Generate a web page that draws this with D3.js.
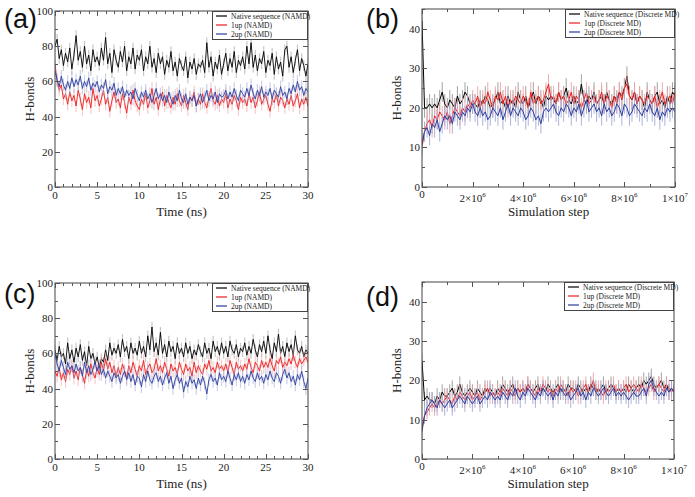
<!DOCTYPE html>
<html><head><meta charset="utf-8">
<script src="https://cdn.jsdelivr.net/npm/d3@7/dist/d3.min.js"></script>
<style>body{margin:0;background:#fff}svg{display:block}</style>
</head><body>
<svg id="chart" width="695" height="497"></svg>
<script>
// ---------- DATA ----------
// NAMD panels: H-bonds sampled every 0.25 ns (0..30 ns)
const namdStepNs = 0.25;
const aNative = [80,84,73,78,69,76,71,79,67,75, 86,72,77,68,80,70,75,66,78,71, 74,69,79,72,85,70,76,65,78,72, 68,77,71,80,66,74,70,79,67,75, 72,78,66,74,70,80,68,73,65,76, 70,74,64,72,68,77,66,71,63,73, 69,66,74,62,71,67,73,64,70,68, 72,65,82,68,74,63,71,67,75,64, 70,76,66,73,68,77,65,72,69,74, 67,80,70,82,68,75,66,73,70,77, 65,72,69,76,64,74,67,71,63,78, 80,68,74,65,72,78,66,73,69,63, 70];
const a1up = [70,60,55,58,50,53,47,54,49,52, 46,55,50,44,53,48,51,45,56,49, 52,46,50,55,47,51,43,49,54,48, 50,45,53,48,42,51,47,55,49,46, 44,50,47,53,45,49,56,47,51,44, 50,54,46,52,48,45,51,47,53,49, 46,52,48,44,51,49,54,46,50,47, 53,48,45,51,56,49,47,52,46,50, 48,53,45,50,47,52,49,44,51,48, 50,46,53,48,51,45,49,54,47,50, 52,47,43,50,48,53,46,51,49,45, 50,47,52,46,49,53,45,50,47,51, 46];
const a2up = [66,61,57,63,58,55,60,56,62,57, 61,58,63,56,60,57,62,55,59,57, 60,54,58,56,61,53,57,55,59,52, 56,53,57,51,55,52,54,50,56,52, 49,54,51,55,50,53,48,52,56,50, 53,49,52,48,54,50,47,52,49,55, 50,48,53,47,51,49,52,46,50,53, 48,51,55,49,52,50,54,48,53,51, 52,55,50,54,51,56,52,49,55,53, 51,56,52,58,53,50,55,52,57,51, 54,52,56,50,55,53,51,57,52,54, 50,56,53,58,54,60,55,57,52,56, 54];
const cNative = [62,56,64,58,60,54,66,57,62,55, 63,58,65,56,61,53,64,57,60,54, 58,52,57,55,62,56,66,59,63,60, 65,58,68,61,64,57,66,60,63,59, 67,60,64,58,70,62,75,61,66,59, 72,60,65,58,67,61,64,57,66,60, 63,58,66,60,64,57,62,59,65,61, 58,66,60,63,57,67,61,64,59,66, 60,64,58,67,62,60,65,58,63,61, 66,59,64,60,68,62,58,65,61,67, 60,70,62,57,66,61,71,60,64,58, 66,61,65,59,70,62,60,64,58,62, 60];
const c1up = [50,47,52,45,49,44,51,48,53,46, 50,45,52,48,43,51,47,54,49,46, 52,48,55,50,57,51,55,49,53,47, 52,48,54,50,46,53,49,55,51,47, 53,50,56,48,52,54,49,51,57,50, 53,49,55,51,47,54,50,52,48,55, 51,48,54,50,52,47,55,49,53,50, 48,54,51,56,50,52,49,55,51,53, 50,54,49,56,52,48,55,51,53,50, 54,51,57,52,49,55,53,50,56,52, 55,52,57,53,50,56,54,58,52,55, 53,57,54,59,55,52,57,54,56,58, 55];
const c2up = [60,54,50,56,52,48,55,51,53,49, 54,50,52,47,55,49,53,48,51,55, 50,53,48,51,46,50,47,44,49,46, 48,43,47,50,45,49,44,48,42,47, 46,41,48,44,50,45,43,47,49,44, 47,42,46,49,43,47,40,45,48,43, 46,38,44,41,47,43,45,40,46,42, 47,43,37,45,48,44,46,42,49,45, 47,44,50,46,42,48,45,49,44,47, 43,48,45,50,46,44,49,45,47,43, 48,45,50,46,44,49,47,43,48,51, 46,49,44,47,42,48,45,50,44,40, 46];
// Discrete MD panels: H-bonds every 1e5 simulation steps (0..1e7)
const dmdStep = 1e5;
const bNative = [42,20,20,21,20,21,20,22,24,21, 20,22,21,20,23,21,22,24,23,21, 21,21,20,22,21,23,22,20,21,22, 24,21,22,20,23,21,22,20,24,22, 21,23,20,22,24,21,23,22,20,23, 22,23,22,21,24,22,23,25,22,21, 23,21,22,26,22,21,23,22,24,21, 22,23,21,24,22,21,23,22,24,23, 25,28,23,22,24,21,23,22,20,24, 22,21,23,24,21,22,20,23,21,24, 23];
const b1up = [10,14,16,17,15,18,17,19,18,17, 19,16,18,20,19,18,20,19,21,20, 22,21,23,20,22,21,24,22,20,23, 22,24,21,23,20,22,21,23,22,21, 23,22,20,24,21,22,23,21,22,24, 26,22,23,21,24,22,23,21,22,24, 21,23,22,20,22,24,21,22,23,21, 22,24,21,23,22,20,23,21,24,22, 25,26,23,22,24,21,23,22,21,23, 22,21,23,20,22,24,21,22,23,21, 24];
const b2up = [11,14,15,13,16,15,17,14,16,18, 17,18,16,19,18,17,19,18,20,19, 21,19,18,20,18,19,17,18,20,19, 18,20,17,19,21,18,20,19,18,20, 19,17,18,20,19,17,18,16,19,20, 19,20,21,19,18,20,19,21,20,18, 20,19,21,18,20,22,19,20,21,19, 20,18,21,19,20,18,19,21,20,18, 21,20,18,19,21,20,19,18,20,19, 21,19,18,20,17,19,18,20,19,20, 19];
const dNative = [25,15,16,15,15,14,16,15,17,16, 16,17,18,16,17,19,17,16,17,18, 17,16,18,17,16,18,17,18,17,16, 18,17,19,18,17,18,19,17,18,17, 18,17,19,18,17,18,19,17,18,17, 19,18,17,18,19,17,18,17,19,18, 18,17,19,18,17,18,17,19,18,18, 17,18,19,17,18,19,18,17,18,17, 18,17,19,18,17,18,19,18,20,19, 20,21,19,18,19,20,18,19,17,18, 17];
const d1up = [8,11,12,13,14,13,14,15,14,15, 16,15,14,16,15,17,16,15,16,17, 15,16,17,15,16,17,18,16,17,16, 17,16,18,17,16,18,17,16,18,17, 18,17,19,18,17,16,18,17,19,18, 17,18,16,18,17,19,18,17,16,18, 17,18,16,17,18,19,17,18,20,17, 18,17,16,18,17,18,19,17,18,17, 18,19,17,18,19,18,17,19,18,17, 18,19,17,18,19,18,17,19,18,17, 18];
const d2up = [7,11,13,14,15,14,13,15,14,13, 14,15,13,14,15,16,15,14,16,15, 14,15,16,14,15,16,15,17,16,15, 16,15,17,16,15,17,16,18,16,15, 17,16,18,17,16,15,17,16,18,17, 16,17,15,17,16,18,17,16,17,15, 16,17,18,16,17,15,17,16,18,17, 16,17,18,17,16,17,18,16,17,16, 17,16,15,16,17,16,16,17,18,16, 19,20,18,17,16,17,16,18,17,18, 17];
// approximate error-bar half widths (H-bonds)
const errNamd = [3, 3.5, 3.5];
const errB = [2.5, 2.5, 2.5];
const errD = [2, 2, 2];
const namdNames = ["Native sequence (NAMD)", "1up (NAMD)", "2up (NAMD)"];
const dmdNames = ["Native sequence (Discrete MD)", "1up (Discrete MD)", "2up (Discrete MD)"];
const namdXTicks = [0,5,10,15,20,25,30];
const namdYTicks = [0,20,40,60,80,100];
const dmdXTicks = [0,2e6,4e6,6e6,8e6,1e7];
const dmdYTicks = [0,10,20,30,40];

// ---------- STYLE ----------
const lineColors = ["#000000", "#ee1c1c", "#2b3d9e"];
const barColors = ["#9a9a9a", "#f6a3a3", "#a3acd8"];
const serif = "'Liberation Serif','Times New Roman',serif";

const svg = d3.select("#chart");

const panels = [
  {label:"(a)", lx:4, ly:28, box:[55,308,11,187], xd:[0,30], yd:[0,100], xt:namdXTicks, xm:1, yt:namdYTicks, ym:10,
   series:[aNative,a1up,a2up], dx:namdStepNs, err:errNamd, names:namdNames, xlab:"Time (ns)", dmd:false, lw:96},
  {label:"(b)", lx:366, ly:28, box:[422,675,9,187], xd:[0,1e7], yd:[0,45], xt:dmdXTicks, xm:1e6, yt:dmdYTicks, ym:5,
   series:[bNative,b1up,b2up], dx:dmdStep, err:errB, names:dmdNames, xlab:"Simulation step", dmd:true, lw:110},
  {label:"(c)", lx:4, ly:303, box:[55,308,283,459], xd:[0,30], yd:[0,100], xt:namdXTicks, xm:1, yt:namdYTicks, ym:10,
   series:[cNative,c1up,c2up], dx:namdStepNs, err:errNamd, names:namdNames, xlab:"Time (ns)", dmd:false, lw:96},
  {label:"(d)", lx:366, ly:306, box:[422,674,282,459], xd:[0,1e7], yd:[0,45], xt:dmdXTicks, xm:1e6, yt:dmdYTicks, ym:5,
   series:[dNative,d1up,d2up], dx:dmdStep, err:errD, names:dmdNames, xlab:"Simulation step", dmd:true, lw:110}
];

panels.forEach((p, pi) => {
  const [x0,x1,y0,y1] = p.box;
  const x = d3.scaleLinear().domain(p.xd).range([x0,x1]);
  const y = d3.scaleLinear().domain(p.yd).range([y1,y0]);
  const g = svg.append("g");
  const clipId = "clip"+pi;
  g.append("clipPath").attr("id", clipId).append("rect")
    .attr("x", x0).attr("y", y0).attr("width", x1-x0).attr("height", y1-y0);
  const plot = g.append("g").attr("clip-path", `url(#${clipId})`);

  p.series.forEach((vals, si) => {
    const pts = vals.map((v,i) => ({x: i*p.dx, y: v}));
    const e = p.err[si];
    plot.append("g").selectAll("line").data(pts).join("line")
      .attr("x1", d => x(d.x)).attr("x2", d => x(d.x))
      .attr("y1", d => y(d.y - e)).attr("y2", d => y(d.y + e))
      .attr("stroke", barColors[si]).attr("stroke-width", p.dmd ? 1 : 1.2)
      .attr("opacity", p.dmd ? 0.9 : 0.55);
    plot.append("path").datum(pts)
      .attr("d", d3.line().x(d => x(d.x)).y(d => y(d.y)))
      .attr("fill", "none").attr("stroke", lineColors[si])
      .attr("stroke-width", p.dmd ? 1 : 0.9).attr("stroke-linejoin", "round");
  });

  // frame
  g.append("rect").attr("x", x0).attr("y", y0).attr("width", x1-x0).attr("height", y1-y0)
    .attr("fill", "none").attr("stroke", "#444").attr("stroke-width", 1);

  // ticks (inward, all four sides)
  const tickG = g.append("g").attr("stroke", "#555").attr("stroke-width", 1);
  const xMinor = d3.range(p.xd[0], p.xd[1] + p.xm/2, p.xm);
  const yMinor = d3.range(p.yd[0], p.yd[1] + p.ym/2, p.ym);
  xMinor.forEach(v => {
    const major = p.xt.some(t => Math.abs(t - v) < p.xm/10);
    const L = major ? 5 : 3;
    const xx = Math.round(x(v)) + 0.5;
    tickG.append("line").attr("x1", xx).attr("x2", xx).attr("y1", y1).attr("y2", y1-L);
    tickG.append("line").attr("x1", xx).attr("x2", xx).attr("y1", y0).attr("y2", y0+L);
  });
  yMinor.forEach(v => {
    const major = p.yt.some(t => Math.abs(t - v) < p.ym/10);
    const L = major ? 5 : 3;
    const yy = Math.round(y(v)) + 0.5;
    tickG.append("line").attr("x1", x0).attr("x2", x0+L).attr("y1", yy).attr("y2", yy);
    tickG.append("line").attr("x1", x1).attr("x2", x1-L).attr("y1", yy).attr("y2", yy);
  });

  // y tick labels
  g.append("g").selectAll("text").data(p.yt).join("text")
    .attr("x", x0 - 2).attr("y", d => y(d) + 4)
    .attr("text-anchor", "end").attr("font-family", serif).attr("font-size", 11).attr("fill", "#222")
    .text(d => d);

  // x tick labels
  const xl = g.append("g");
  p.xt.forEach(v => {
    const t = xl.append("text").attr("x", x(v)).attr("y", y1 + (p.dmd ? 15 : 12))
      .attr("text-anchor", "middle").attr("font-family", serif).attr("font-size", 11).attr("fill", "#222");
    if (!p.dmd || v === 0) {
      t.text(v);
      if (p.dmd) t.attr("y", y1 + 11);
    } else {
      const exp = Math.floor(Math.log10(v));
      const mant = Math.round(v / Math.pow(10, exp));
      t.append("tspan").text(mant + "\u00d710");
      t.append("tspan").attr("dy", -5).attr("font-size", 7).text(exp);
    }
  });

  // axis titles
  g.append("text").attr("x", (x0+x1)/2).attr("y", y1 + 29)
    .attr("text-anchor", "middle").attr("font-family", serif).attr("font-size", 13).attr("fill", "#222")
    .text(p.xlab);
  g.append("text")
    .attr("transform", `translate(${x0 - 21},${(y0+y1)/2}) rotate(-90)`)
    .attr("text-anchor", "middle").attr("font-family", serif).attr("font-size", 13).attr("fill", "#222")
    .text("H-bonds");

  // panel label
  g.append("text").attr("x", p.lx).attr("y", p.ly)
    .attr("font-family", "'Liberation Sans',Arial,sans-serif").attr("font-size", 27).attr("fill", "#111")
    .text(p.label);

  // legend
  const lgW = p.lw, lgH = 28;
  const lx0 = x1 - lgW, ly0 = y0;
  g.append("rect").attr("x", lx0 + 0.5).attr("y", ly0 + 0.5).attr("width", lgW - 1).attr("height", lgH)
    .attr("fill", "#fff").attr("stroke", "#444").attr("stroke-width", 1);
  p.names.forEach((n, i) => {
    const yy = ly0 + 5 + i * 9;
    g.append("line").attr("x1", lx0 + 4).attr("x2", lx0 + 15).attr("y1", yy).attr("y2", yy)
      .attr("stroke", lineColors[i]).attr("stroke-width", 1.2);
    g.append("text").attr("x", lx0 + 19).attr("y", yy + 2.5)
      .attr("font-family", serif).attr("font-size", 7.5).attr("fill", "#222")
      .text(n);
  });
});
</script>
</body></html>
